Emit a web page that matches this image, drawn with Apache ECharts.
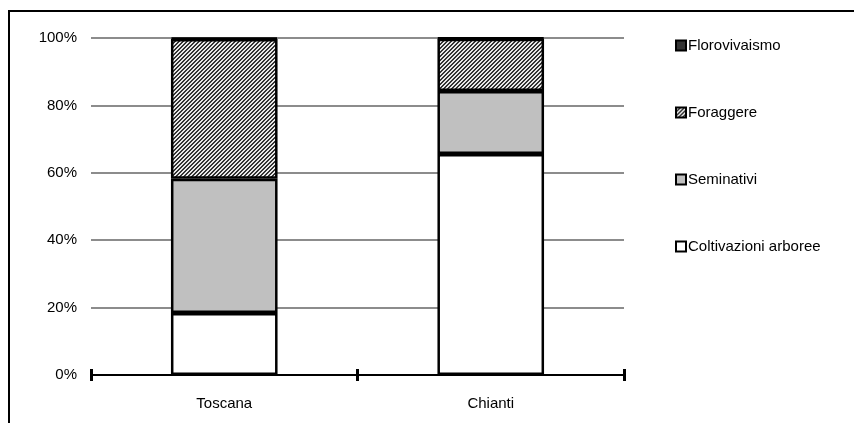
<!DOCTYPE html>
<html>
<head>
<meta charset="utf-8">
<script src="https://cdn.jsdelivr.net/npm/echarts@6/dist/echarts.min.js"></script>
<style>
  html, body { margin: 0; padding: 0; background: #fff; }
  #chart { width: 854px; height: 423px; }
</style>
</head>
<body>
<div id="chart"></div>
<script>
// Land use shares (%) by area
const categories = ['Toscana', 'Chianti'];
const coltivazioniArboree = [18.4, 65.6];
const seminativi = [39.8, 18.7];
const foraggere = [41.5, 15.5];
const florovivaismo = [0.3, 0.2];
const yTicks = [0, 20, 40, 60, 80, 100];

// Diagonal hatch used for the "Foraggere" fill
function hatchPattern() {
  const c = document.createElement('canvas');
  c.width = 4; c.height = 4;
  const g = c.getContext('2d');
  g.fillStyle = '#e8e8e8';
  g.fillRect(0, 0, 4, 4);
  g.fillStyle = '#333';
  for (let i = 0; i < 4; i++) {
    g.fillRect(i, 3 - i, 1, 1);
    g.fillRect((i + 1) % 4, 3 - i, 1, 1);
  }
  return c;
}

const chart = echarts.init(document.getElementById('chart'), null, { renderer: 'canvas' });
const gridTop = 38, gridBottom = 48, H = 423;
const plotH = H - gridTop - gridBottom;
const font = 'Liberation Sans, Arial, sans-serif';

const border = { borderColor: '#000', borderWidth: 2.5 };
function bar(name, data, color) {
  return {
    name, type: 'bar', stack: 'tot', data, barWidth: '40%',
    itemStyle: Object.assign({ color }, border)
  };
}

chart.setOption({
  animation: false,
  backgroundColor: '#fff',
  grid: { left: 91, right: 230, top: gridTop, bottom: gridBottom },
  legend: {
    orient: 'vertical', left: 670, top: 33,
    data: ['Florovivaismo', 'Foraggere', 'Seminativi', 'Coltivazioni arboree'],
    icon: 'rect', itemWidth: 10, itemHeight: 10, itemGap: 52,
    textStyle: { fontFamily: font, fontSize: 15, lineHeight: 15, color: '#000', padding: [0, 0, 0, -3] }
  },
  xAxis: [{
    type: 'category', data: categories, position: 'bottom',
    axisLine: { lineStyle: { color: '#000', width: 2 } },
    axisTick: { show: true, length: 6, lineStyle: { color: '#000', width: 3 } },
    axisLabel: { fontFamily: font, fontSize: 15, color: '#000', margin: 21 }
  }, {
    type: 'category', data: categories, position: 'top', offset: -plotH,
    axisLine: { show: false },
    axisTick: { show: true, length: 6, lineStyle: { color: '#000', width: 3 } },
    axisLabel: { show: false }
  }],
  yAxis: {
    type: 'value', min: yTicks[0], max: yTicks[yTicks.length - 1], interval: 20,
    axisLine: { show: false }, axisTick: { show: false },
    axisLabel: { formatter: '{value}%', fontFamily: font, fontSize: 15, color: '#000', margin: 14 },
    splitLine: { lineStyle: { color: '#8c8c8c', width: 2 } }
  },
  series: [
    bar('Coltivazioni arboree', coltivazioniArboree, '#ffffff'),
    bar('Seminativi', seminativi, '#c0c0c0'),
    bar('Foraggere', foraggere, { image: hatchPattern(), repeat: 'repeat' }),
    bar('Florovivaismo', florovivaismo, '#333333')
  ],
  graphic: [{
    type: 'rect', silent: true,
    shape: { x: 9, y: 11, width: 900, height: 500 },
    style: { fill: 'none', stroke: '#000', lineWidth: 2 }
  }]
});
</script>
</body>
</html>
